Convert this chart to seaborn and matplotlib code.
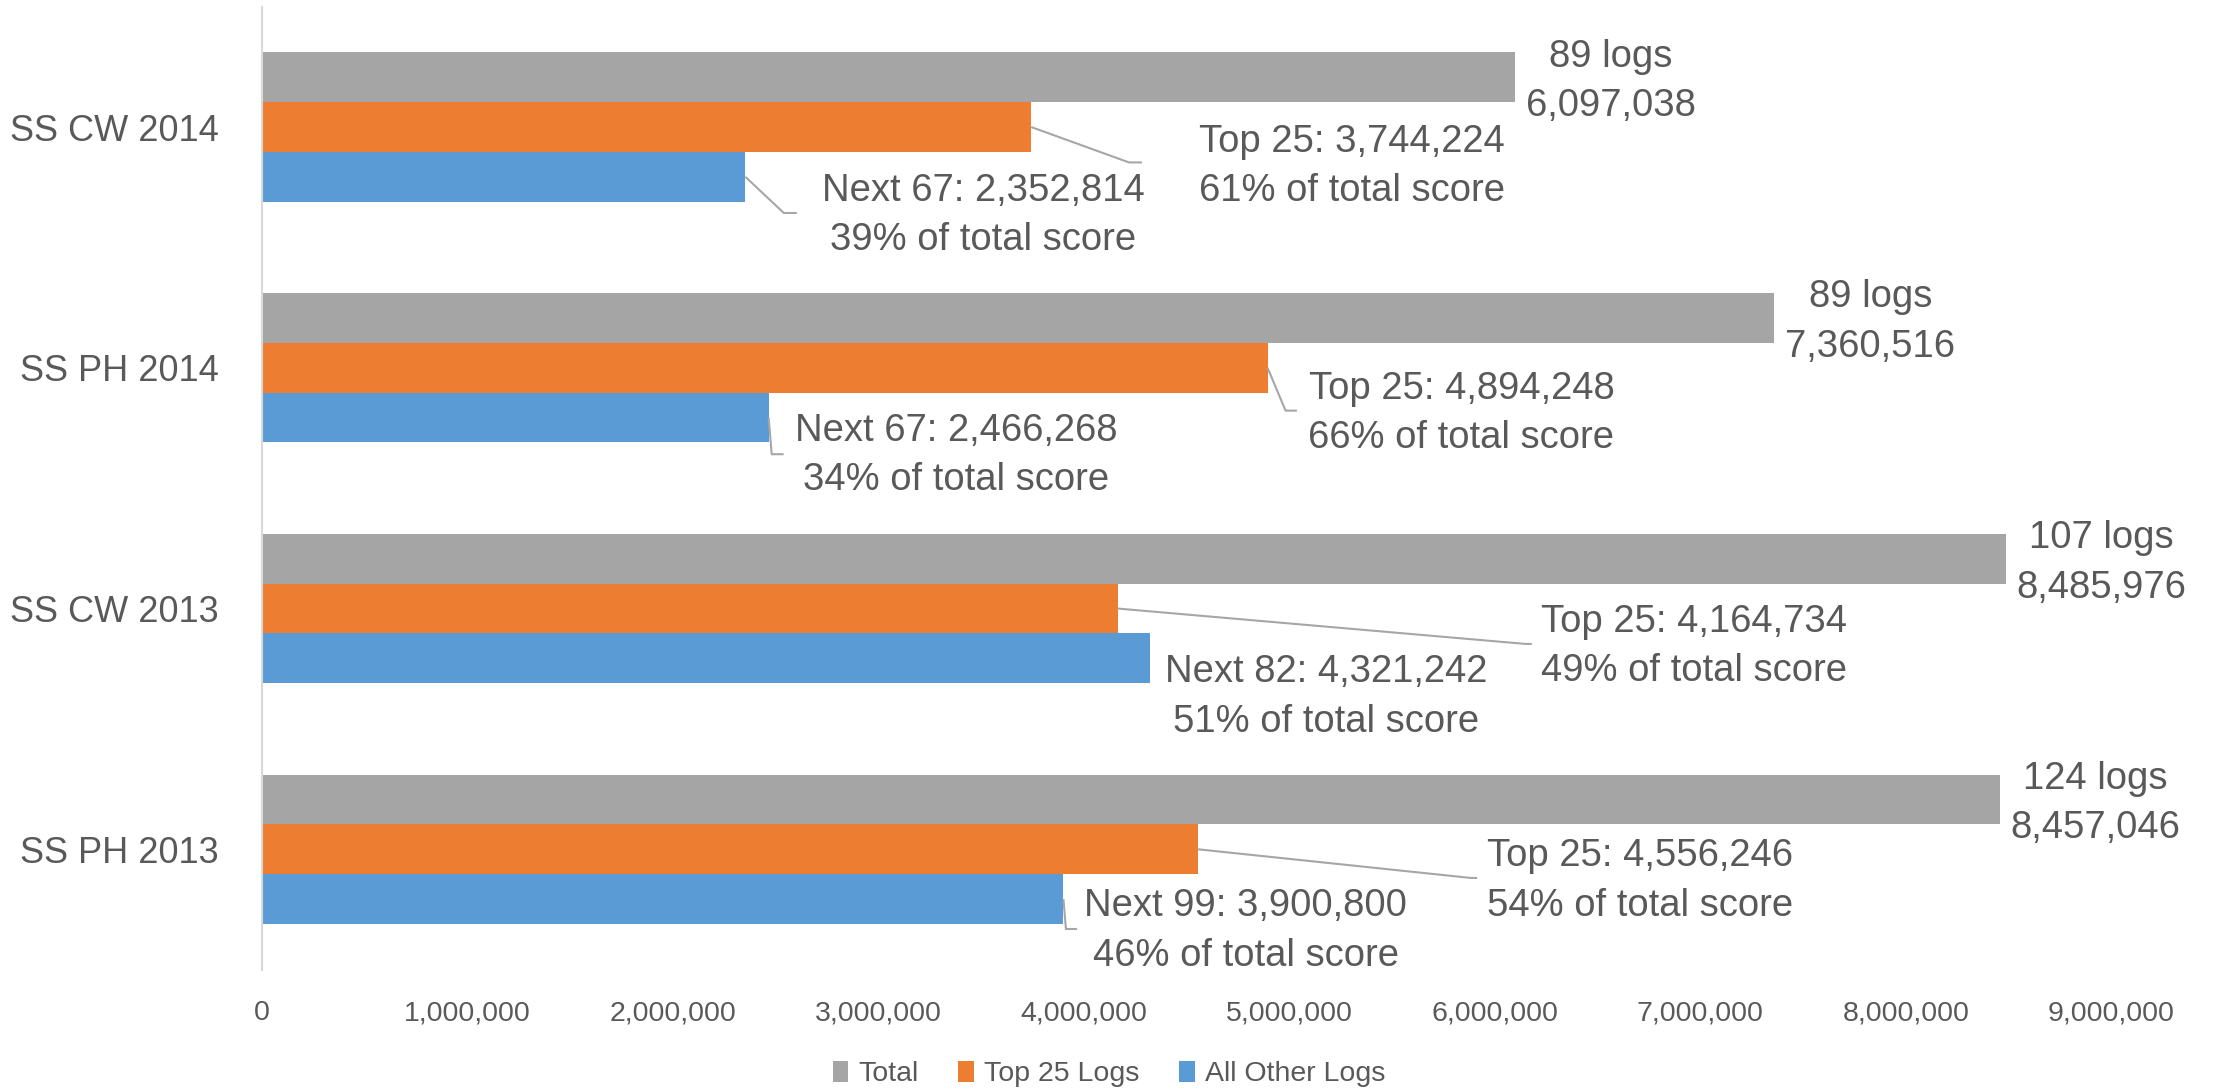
import matplotlib
matplotlib.use("Agg")
import matplotlib.pyplot as plt
import matplotlib.ticker as mticker
from matplotlib.patches import Patch
import seaborn as sns
import pandas as pd

# ---------------- data ----------------
categories = ["SS CW 2014", "SS PH 2014", "SS CW 2013", "SS PH 2013"]
series_names = ["Total", "Top 25 Logs", "All Other Logs"]
total_scores = [6097038, 7360516, 8485976, 8457046]
top25_scores = [3744224, 4894248, 4164734, 4556246]
other_scores = [2352814, 2466268, 4321242, 3900800]
log_counts = [89, 89, 107, 124]
other_counts = [67, 67, 82, 99]
top25_pct = [61, 66, 49, 54]
other_pct = [39, 34, 51, 46]
x_ticks = [0, 1000000, 2000000, 3000000, 4000000, 5000000, 6000000, 7000000, 8000000, 9000000]

# ---------------- layout (label placement, leader elbows) ----------------
top25_label_pos = [(5.306e6, 0.165), (5.838e6, 1.19), (6.971e6, 2.157), (6.708e6, 3.131)]
other_label_pos = [(3.509e6, 0.367), (3.377e6, 1.364), (5.181e6, 2.367), (4.787e6, 3.340)]
# leader elbows: (elbow_x, elbow_y, end_x) or None
top25_leaders = [(4.220e6, 0.147, 4.283e6), (4.982e6, 1.178, 5.037e6),
                 (6.150e6, 2.147, 6.180e6), (5.884e6, 3.119, 5.914e6)]
other_leaders = [(2.540e6, 0.357, 2.603e6), (2.481e6, 1.359, 2.539e6),
                 None, (3.913e6, 3.331, 3.967e6)]

colors = ["#A5A5A5", "#ED7D31", "#5B9BD5"]
text_color = "#595959"
leader_color = "#A6A6A6"

sns.set_style("white")
plt.rcParams["font.family"] = ["Liberation Sans", "DejaVu Sans"]

rows = []
for c, t, p, o in zip(categories, total_scores, top25_scores, other_scores):
    rows.append((c, series_names[0], t))
    rows.append((c, series_names[1], p))
    rows.append((c, series_names[2], o))
df = pd.DataFrame(rows, columns=["category", "series", "value"])

fig = plt.figure(figsize=(22.27, 10.91), dpi=100)
ax = fig.add_axes([0.1176, 0.1112, 0.948 - 0.1176, 0.9939 - 0.1112])

bar_w = 0.62
sns.barplot(data=df, y="category", x="value", hue="series", order=categories,
            hue_order=series_names, palette=colors, width=bar_w, orient="h",
            saturation=1, linewidth=0, ax=ax, legend=False)

ax.set_xlim(0, 9000000)
ax.set_ylim(3.5, -0.5)
ax.set_xticks(x_ticks)
ax.xaxis.set_major_formatter(mticker.FuncFormatter(lambda v, p: f"{int(v):,}"))
ax.set_xlabel("")
ax.set_ylabel("")
ax.tick_params(axis="x", length=0, pad=22, labelsize=20.5, labelcolor=text_color)
ax.tick_params(axis="y", length=0, pad=31, labelsize=26, labelcolor=text_color)
for s in ["top", "right", "bottom"]:
    ax.spines[s].set_visible(False)
ax.spines["left"].set_color("#D9D9D9")
ax.spines["left"].set_linewidth(1.5)
ax.grid(False)

h = bar_w / 3.0
lab_fs = 27.5
ls = 1.48
for i in range(len(categories)):
    # total label
    ax.annotate(f"{log_counts[i]} logs\n{total_scores[i]:,}",
                xy=(total_scores[i], i - h), xytext=(8, -3), textcoords="offset points",
                ha="left", va="center", multialignment="center", linespacing=ls,
                fontsize=lab_fs, color=text_color)
    # top 25 label
    lx, ly = top25_label_pos[i]
    ax.text(lx, ly, f"Top 25: {top25_scores[i]:,}\n{top25_pct[i]}% of total score",
            ha="center", va="center", multialignment="center", linespacing=ls,
            fontsize=lab_fs, color=text_color)
    ld = top25_leaders[i]
    if ld is not None:
        ax.plot([top25_scores[i], ld[0], ld[2]], [i, ld[1], ld[1]],
                color=leader_color, lw=1.5, solid_capstyle="butt")
    # others label
    lx, ly = other_label_pos[i]
    ax.text(lx, ly, f"Next {other_counts[i]}: {other_scores[i]:,}\n{other_pct[i]}% of total score",
            ha="center", va="center", multialignment="center", linespacing=ls,
            fontsize=lab_fs, color=text_color)
    ld = other_leaders[i]
    if ld is not None:
        ax.plot([other_scores[i], ld[0], ld[2]], [i + h, ld[1], ld[1]],
                color=leader_color, lw=1.5, solid_capstyle="butt")

handles = [Patch(facecolor=c, edgecolor="none", label=n) for c, n in zip(colors, series_names)]
fig.legend(handles=handles, loc="center", bbox_to_anchor=(0.498, 0.0156), ncol=3,
           frameon=False, fontsize=20.5, labelcolor=text_color,
           handlelength=0.55, handleheight=0.75, handletextpad=0.35, columnspacing=1.4)

fig.savefig("out.png", dpi=100)
